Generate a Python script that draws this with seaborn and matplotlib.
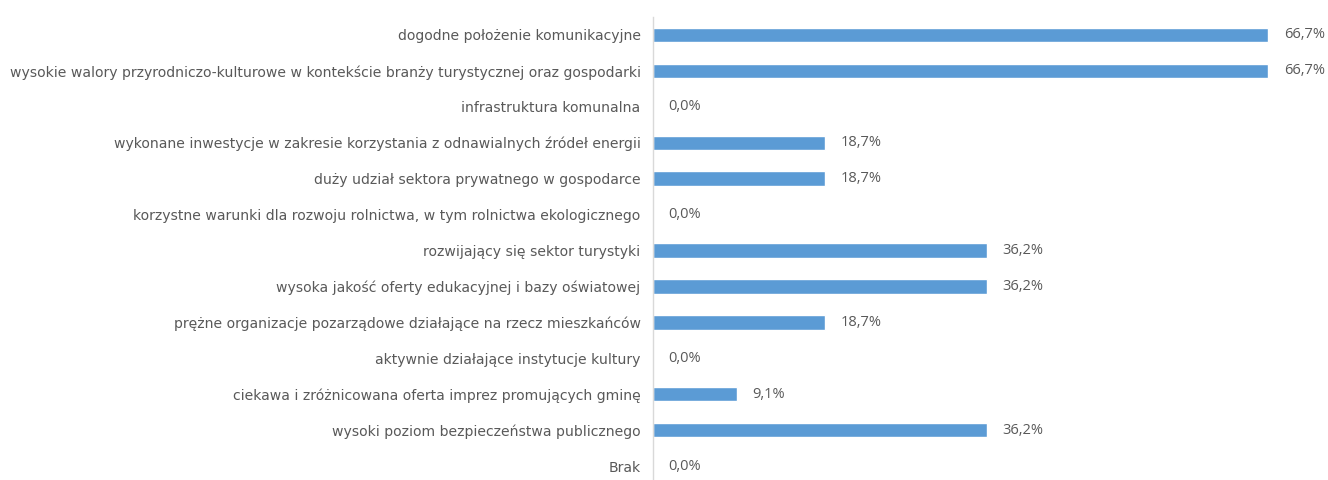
import matplotlib
matplotlib.use("Agg")
import matplotlib.pyplot as plt
import seaborn as sns
import pandas as pd

categories = [
    "dogodne położenie komunikacyjne",
    "wysokie walory przyrodniczo-kulturowe w kontekście branży turystycznej oraz gospodarki",
    "infrastruktura komunalna",
    "wykonane inwestycje w zakresie korzystania z odnawialnych źródeł energii",
    "duży udział sektora prywatnego w gospodarce",
    "korzystne warunki dla rozwoju rolnictwa, w tym rolnictwa ekologicznego",
    "rozwijający się sektor turystyki",
    "wysoka jakość oferty edukacyjnej i bazy oświatowej",
    "prężne organizacje pozarządowe działające na rzecz mieszkańców",
    "aktywnie działające instytucje kultury",
    "ciekawa i zróżnicowana oferta imprez promujących gminę",
    "wysoki poziom bezpieczeństwa publicznego",
    "Brak",
]
values = [66.7, 66.7, 0.0, 18.7, 18.7, 0.0, 36.2, 36.2, 18.7, 0.0, 9.1, 36.2, 0.0]

df = pd.DataFrame({"cat": categories, "val": values})

sns.set_theme(style="white")
plt.rcParams["font.family"] = ["DejaVu Sans"]

fig = plt.figure(figsize=(13.28, 4.8), dpi=100)
ax = fig.add_axes([653 / 1328, -4 / 480, 1 - 653 / 1328, 467 / 480])

sns.barplot(data=df, x="val", y="cat", color="#5B9BD5", width=0.4, ax=ax,
            saturation=1, orient="h")

ax.set_xlim(0, 66.7 * 675 / 615)
ax.set_ylim(12.5, -0.5)
ax.set_xlabel("")
ax.set_ylabel("")
ax.set_xticks([])
for s in ["top", "right", "bottom"]:
    ax.spines[s].set_visible(False)
ax.spines["left"].set_color("#D9D9D9")
ax.spines["left"].set_linewidth(1)
ax.tick_params(axis="y", length=0, pad=9, labelsize=10.1, labelcolor="#595959")

for i, v in enumerate(values):
    ax.text(v + 1.7, i, f"{v:.1f}%".replace(".", ","), va="center", ha="left",
            fontsize=10.5, color="#595959", family="Open Sans")

fig.savefig("out.png", dpi=100)
